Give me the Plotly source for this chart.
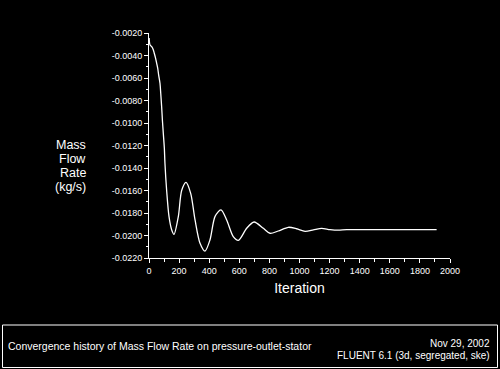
import plotly.graph_objects as go

# ---- data ----
iterations = [1, 7, 18, 29, 35, 44, 51, 58, 64, 73, 78, 84, 89, 95, 102, 106, 117, 133,
              151, 166, 195, 217, 246, 277, 306, 339, 372, 405, 439, 478, 516, 560, 594,
              649, 698, 760, 804, 859, 926, 981, 1037, 1092, 1147, 1203, 1258, 1314,
              1500, 1700, 1911]
mass_flow_rate = [-0.00244, -0.00307, -0.00322, -0.00351, -0.00380, -0.00425, -0.00469,
                  -0.00514, -0.00573, -0.00647, -0.00736, -0.00855, -0.00973, -0.01092,
                  -0.01225, -0.01358, -0.01596, -0.01833, -0.01951, -0.01990, -0.01830,
                  -0.01600, -0.01527, -0.01625, -0.01862, -0.02069, -0.02138, -0.02040,
                  -0.01830, -0.01773, -0.01862, -0.02010, -0.02043, -0.01936, -0.01880,
                  -0.01936, -0.01980, -0.01960, -0.01927, -0.01940, -0.01963, -0.01950,
                  -0.01936, -0.01948, -0.01953, -0.01948, -0.01948, -0.01948, -0.01948]

y_tickvals = [-0.0020, -0.0040, -0.0060, -0.0080, -0.0100, -0.0120, -0.0140,
              -0.0160, -0.0180, -0.0200, -0.0220]
y_ticktext = ["-0.0020", "-0.0040", "-0.0060", "-0.0080", "-0.0100", "-0.0120",
              "-0.0140", "-0.0160", "-0.0180", "-0.0200", "-0.0220"]
x_tickvals = [0, 200, 400, 600, 800, 1000, 1200, 1400, 1600, 1800, 2000]
x_ticktext = ["0", "200", "400", "600", "800", "1000", "1200", "1400", "1600", "1800", "2000"]

ylabel_lines = ["Mass", "Flow", "Rate", "(kg/s)"]
footer_left = "Convergence history of Mass Flow Rate on pressure-outlet-stator"
footer_right = ["Nov 29, 2002", "FLUENT 6.1 (3d, segregated, ske)"]

FONT = "Liberation Sans, Arial, sans-serif"

# plot area in pixels
L, R, T, B = 149, 450, 33, 258
W, H = R - L, B - T


def px_x(px):
    return (px - L) / W


def px_y(py):
    return (B - py) / H


fig = go.Figure()
fig.add_trace(go.Scatter(
    x=iterations, y=mass_flow_rate, mode="lines",
    line=dict(color="white", width=1.3, shape="spline", smoothing=0.8),
    hoverinfo="skip", showlegend=False,
))

fig.update_layout(
    width=500, height=369,
    paper_bgcolor="black", plot_bgcolor="black",
    margin=dict(l=L, r=500 - R, t=T, b=369 - B, pad=0),
    font=dict(family=FONT, color="white", size=9),
    showlegend=False,
)

fig.update_xaxes(
    range=[0, 2000], showgrid=False, zeroline=False,
    showline=True, linecolor="white", linewidth=1,
    ticks="outside", ticklen=4, tickcolor="white", tickwidth=1,
    tickmode="array", tickvals=x_tickvals, ticktext=x_ticktext,
    tickfont=dict(size=9, color="white", family=FONT),
    minor=dict(ticks="outside", ticklen=3, tickcolor="white", dtick=100, showgrid=False),
    title=dict(text="Iteration", font=dict(size=14, color="white", family=FONT), standoff=8),
)
fig.update_yaxes(
    range=[-0.022, -0.002], showgrid=False, zeroline=False,
    showline=True, linecolor="white", linewidth=1,
    ticks="outside", ticklen=4, tickcolor="white", tickwidth=1,
    tickmode="array", tickvals=y_tickvals, ticktext=y_ticktext,
    tickfont=dict(size=9, color="white", family=FONT),
    minor=dict(ticks="outside", ticklen=2, tickcolor="white", dtick=0.001, showgrid=False),
)

# y-axis label, one annotation per line
for i, line in enumerate(ylabel_lines):
    fig.add_annotation(
        text=line, xref="paper", yref="paper",
        x=px_x(88), y=px_y(145 + 14 * i), xanchor="right", yanchor="middle",
        showarrow=False, font=dict(size=12.5, color="white", family=FONT),
    )

# footer box
fig.add_shape(
    type="rect", xref="paper", yref="paper",
    x0=px_x(2.5), x1=px_x(497.5), y0=px_y(325), y1=px_y(367.5),
    line=dict(color="white", width=1), fillcolor="rgba(0,0,0,0)",
)
fig.add_annotation(
    text=footer_left, xref="paper", yref="paper",
    x=px_x(6), y=px_y(345.5), xanchor="left", yanchor="middle",
    showarrow=False, font=dict(size=10.5, color="white", family=FONT),
)
for i, line in enumerate(footer_right):
    fig.add_annotation(
        text=line, xref="paper", yref="paper",
        x=px_x(492), y=px_y(343.5 + 11.5 * i), xanchor="right", yanchor="middle",
        showarrow=False, font=dict(size=10, color="white", family=FONT),
    )

fig.write_html("out.html")
